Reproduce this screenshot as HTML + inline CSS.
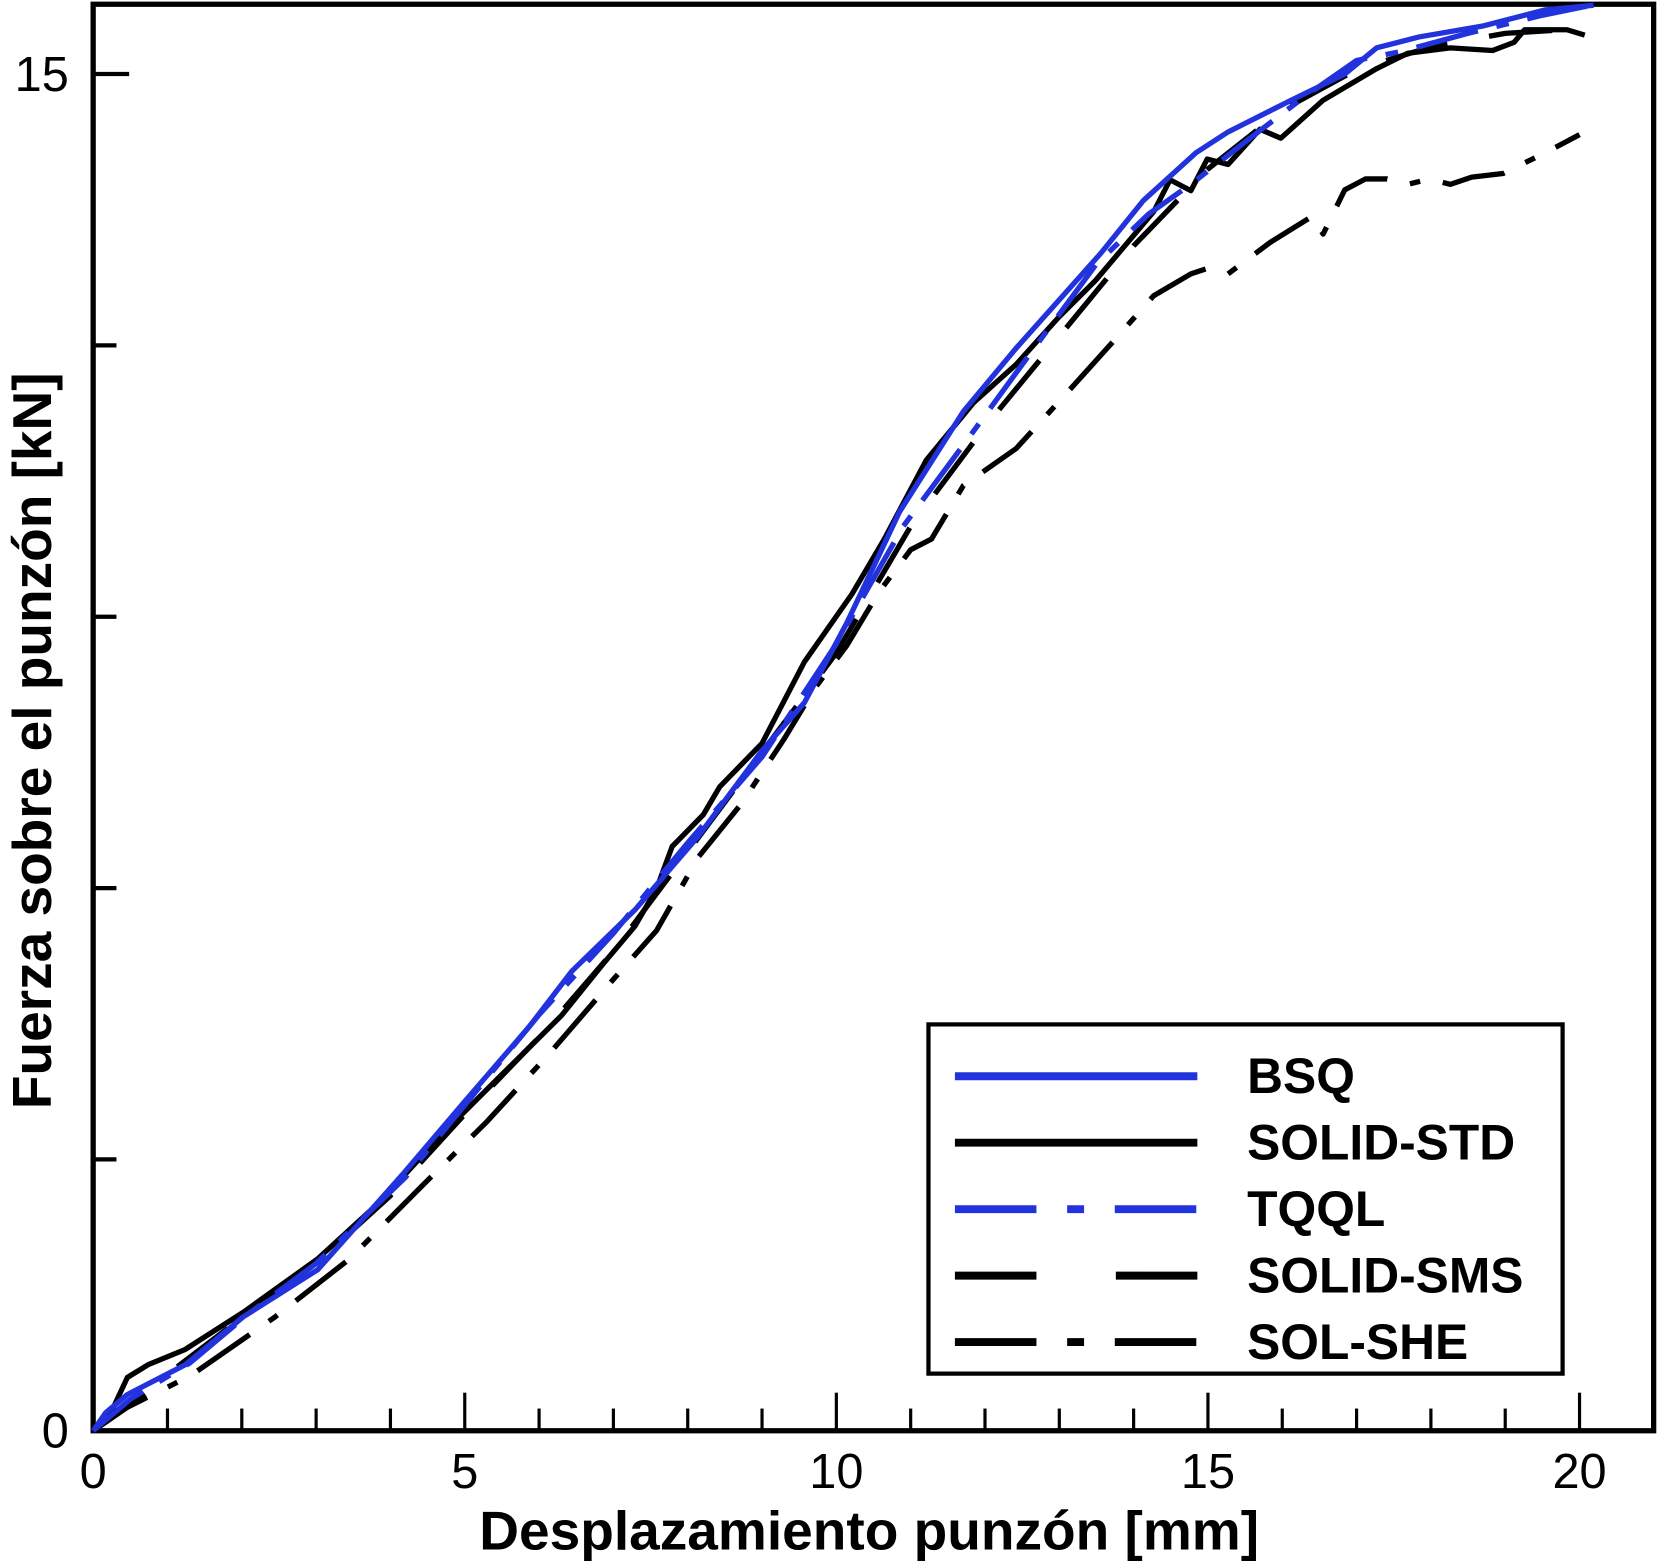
<!DOCTYPE html>
<html><head><meta charset="utf-8"><style>
html,body{margin:0;padding:0;background:#fff}
svg{display:block}
text{font-family:"Liberation Sans",Arial,sans-serif}
</style></head><body>
<svg id="chart" width="1660" height="1562" viewBox="0 0 1568 1476" preserveAspectRatio="none" xmlns="http://www.w3.org/2000/svg">
<g id="axes"></g><g id="series"></g><g id="legend"></g>
</svg>
<script>
const xTicksMajor=[0,5,10,15,20];
const yTicks=[0,3,6,9,12,15];
const yTickLabels=["0","","","","","15"];
const bsqX=[0,0.17,0.46,1.24,2.02,3.02,4.16,5.01,5.87,6.44,7.29,8.15,9.0,9.57,10.14,10.85,11.71,12.42,13.56,14.13,14.84,15.27,16.12,16.84,17.27,17.84,18.69,19.54,20.19];
const bsqY=[0,0.2,0.4,0.73,1.26,1.78,2.83,3.65,4.47,5.08,5.76,6.58,7.52,8.05,8.93,10.16,11.27,11.97,13.02,13.6,14.13,14.36,14.71,15.0,15.29,15.41,15.53,15.71,15.76];
const stdX=[0,0.24,0.46,0.74,1.24,2.02,3.02,3.87,4.66,5.44,6.3,6.87,7.29,7.58,7.79,8.21,8.43,9.0,9.57,10.21,10.64,11.21,11.85,12.42,12.99,13.49,13.85,14.27,14.49,14.77,14.99,15.27,15.7,15.98,16.55,17.27,17.69,18.26,18.83,19.12,19.26,19.83,20.07];
const stdY=[0,0.2,0.59,0.73,0.9,1.31,1.9,2.54,3.25,3.89,4.59,5.17,5.58,5.99,6.46,6.81,7.12,7.6,8.5,9.25,9.85,10.73,11.37,11.79,12.31,12.72,13.07,13.48,13.83,13.71,14.06,14.0,14.39,14.29,14.71,15.06,15.23,15.29,15.26,15.35,15.49,15.49,15.43];
const tqqlX=[0,0.5,1.3,2.1,3.0,4.2,5.2,6.0,7.0,8.0,9.0,10.0,10.9,11.8,12.6,13.5,14.2,14.8,15.5,16.3,17.0,17.6,18.5,19.5,20.1];
const tqqlY=[0,0.35,0.75,1.3,1.85,2.8,3.8,4.6,5.5,6.5,7.45,8.7,10.0,11.0,11.9,12.9,13.45,13.8,14.25,14.75,15.15,15.25,15.45,15.65,15.75];
const smsX=[0,0.5,1.2,2.0,3.0,4.0,5.0,6.0,7.0,8.0,9.0,10.0,11.0,12.0,13.0,14.0,15.0,16.0,17.0,18.0,19.0,20.0];
const smsY=[0,0.3,0.75,1.25,1.85,2.6,3.5,4.35,5.3,6.4,7.5,8.6,10.0,11.1,12.1,13.1,13.95,14.6,15.05,15.3,15.45,15.5];
const sheX=[0,0.46,1.31,2.45,3.45,4.44,5.3,6.15,7.01,7.58,8.15,8.72,9.29,9.72,10.14,10.57,11.0,11.28,11.71,12.42,13.13,13.7,14.27,14.77,14.99,15.27,15.84,16.41,16.55,16.84,17.12,17.41,17.69,17.98,18.26,18.55,18.97,19.54,20.0];
const sheY=[0,0.26,0.61,1.26,1.9,2.72,3.42,4.18,5.0,5.53,6.35,6.93,7.64,8.22,8.68,9.27,9.74,9.86,10.45,10.86,11.5,12.02,12.55,12.79,12.85,12.79,13.14,13.43,13.23,13.72,13.84,13.84,13.78,13.84,13.78,13.86,13.9,14.13,14.33];
const seriesNames=["BSQ","SOLID-STD","TQQL","SOLID-SMS","SOL-SHE"];

const NS="http://www.w3.org/2000/svg";
const X=v=>88+v*70.2, Y=v=>1352-v*85.47;
function mk(tag,attrs,parent){const e=document.createElementNS(NS,tag);for(const k in attrs)e.setAttribute(k,attrs[k]);parent.appendChild(e);return e;}
const axes=document.getElementById('axes'),ser=document.getElementById('series'),leg=document.getElementById('legend');
const frame=mk('path',{d:'M88 4 H1562 V1352 H88 Z',fill:'none',stroke:'#000','stroke-width':5},axes);


for(let i=0;i<=20;i++){
  const major=xTicksMajor.includes(i);
  const t=mk('line',{x1:X(i),x2:X(i),y1:1352,y2:1352-(major?36:21),stroke:'#000','stroke-width':3},axes);
  
  
  if(major){const l=mk('text',{x:X(i),y:1406,'font-size':46,'text-anchor':'middle'},axes);l.textContent=String(i);
    
    }
}
yTicks.forEach((v,i)=>{
  const major=(v===0||v===15);
  const t=mk('line',{x1:88,x2:88+(major?34:22),y1:Y(v),y2:Y(v),stroke:'#000','stroke-width':4},axes);
  
  
  if(yTickLabels[i]){const l=mk('text',{x:65,y:Y(v)+16,'font-size':46,'text-anchor':'end'},axes);l.textContent=yTickLabels[i];
    
    }
});
const xt=mk('text',{x:821,y:1464,'font-size':52,'font-weight':'bold','text-anchor':'middle'},axes);
xt.textContent='Desplazamiento punzón [mm]';


const yt=mk('text',{x:0,y:0,'font-size':52,'font-weight':'bold','text-anchor':'middle',transform:'translate(48,700) rotate(-90)'},axes);
yt.textContent='Fuerza sobre el punzón [kN]';



const styles=[
 {c:'#2233dd',d:''},{c:'#000',d:''},{c:'#2233dd',d:'60 18 12 18'},{c:'#000',d:'60 40'},{c:'#000',d:'60 22 10 22'}];
const data=[[bsqX,bsqY],[stdX,stdY],[tqqlX,tqqlY],[smsX,smsY],[sheX,sheY]];
const order=[3,4,1,2,0];
order.forEach(k=>{
  const [xs,ys]=data[k];
  const pts=xs.map((x,i)=>X(x).toFixed(1)+','+Y(ys[i]).toFixed(1)).join(' ');
  const p=mk('polyline',{points:pts,fill:'none',stroke:styles[k].c,'stroke-width':5,'stroke-linejoin':'round'},ser);
  if(styles[k].d)p.setAttribute('stroke-dasharray',styles[k].d);
  
  
});
const box=mk('rect',{x:877,y:968,width:599,height:330,fill:'#fff',stroke:'#000','stroke-width':4},leg);


const legDash=['','','77 29 16 29','77 75','77 29 16 29'];
seriesNames.forEach((n,i)=>{
  const y=1017+i*62.8;
  const l=mk('line',{x1:902,x2:1131,y1:y,y2:y,stroke:styles[i].c,'stroke-width':7.5},leg);
  if(legDash[i])l.setAttribute('stroke-dasharray',legDash[i]);
  
  
  const t=mk('text',{x:1178,y:y+16,'font-size':47,'font-weight':'bold'},leg);
  t.textContent=n;
  
  
});
</script>
</body></html>
